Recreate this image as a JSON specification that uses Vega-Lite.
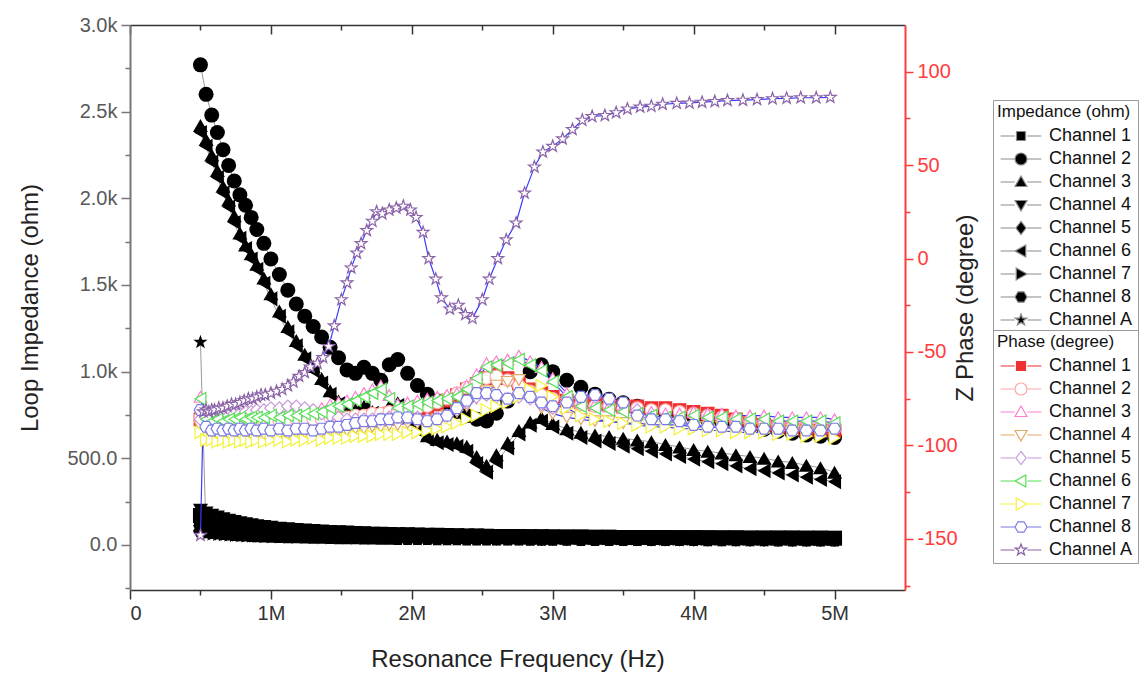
{
  "$schema": "https://vega.github.io/schema/vega-lite/v6.json",
  "width": 775,
  "height": 565,
  "autosize": "none",
  "padding": {"left": 130, "top": 25, "right": 240, "bottom": 87},
  "background": "white",
  "config": {
    "view": {"stroke": null},
    "font": "Liberation Sans",
    "axis": {"grid": false, "labelFont": "Liberation Sans", "titleFont": "Liberation Sans", "titleFontWeight": "normal"},
    "legend": {
      "titleFont": "Liberation Sans", "labelFont": "Liberation Sans",
      "titleFontSize": 17, "titleFontWeight": "normal", "titleColor": "#111",
      "labelFontSize": 18, "labelColor": "#111",
      "symbolSize": 144, "symbolStrokeWidth": 1.2, "rowPadding": 5, "padding": 4,
      "strokeColor": "#9a9a9a", "fillColor": "white", "titlePadding": 6,
      "symbolOffset": 15, "labelOffset": 19, "labelLimit": 200, "titleLimit": 300
    }
  },
  "datasets": {
    "imp": [
      {"f":0.5,"c1":170,"c2":2770,"c3":2420,"c4":200,"c5":110,"c6":2380,"c7":140,"c8":80,"cA":1170},
      {"f":0.54,"c1":158,"c2":2600,"c3":2340,"c4":185,"c5":104,"c6":2300,"c7":131,"c8":76,"cA":62},
      {"f":0.58,"c1":148,"c2":2480,"c3":2250,"c4":172,"c5":99,"c6":2210,"c7":123,"c8":72,"cA":59},
      {"f":0.62,"c1":139,"c2":2380,"c3":2160,"c4":161,"c5":94,"c6":2120,"c7":116,"c8":69,"cA":57},
      {"f":0.66,"c1":131,"c2":2280,"c3":2070,"c4":151,"c5":90,"c6":2030,"c7":110,"c8":66,"cA":55},
      {"f":0.7,"c1":124,"c2":2190,"c3":1990,"c4":142,"c5":86,"c6":1950,"c7":104,"c8":63,"cA":53},
      {"f":0.74,"c1":118,"c2":2100,"c3":1900,"c4":135,"c5":82,"c6":1860,"c7":99,"c8":61,"cA":51},
      {"f":0.78,"c1":112,"c2":2020,"c3":1800,"c4":128,"c5":79,"c6":1770,"c7":95,"c8":59,"cA":50},
      {"f":0.82,"c1":107,"c2":1960,"c3":1730,"c4":122,"c5":76,"c6":1710,"c7":91,"c8":57,"cA":48},
      {"f":0.86,"c1":102,"c2":1890,"c3":1680,"c4":116,"c5":73,"c6":1650,"c7":87,"c8":55,"cA":47},
      {"f":0.9,"c1":98,"c2":1820,"c3":1620,"c4":111,"c5":71,"c6":1590,"c7":84,"c8":53,"cA":46},
      {"f":0.95,"c1":94,"c2":1740,"c3":1540,"c4":106,"c5":68,"c6":1510,"c7":80,"c8":52,"cA":45},
      {"f":1.0,"c1":90,"c2":1650,"c3":1450,"c4":102,"c5":66,"c6":1420,"c7":77,"c8":50,"cA":44},
      {"f":1.06,"c1":86,"c2":1560,"c3":1350,"c4":97,"c5":64,"c6":1320,"c7":74,"c8":49,"cA":43},
      {"f":1.12,"c1":82,"c2":1470,"c3":1260,"c4":93,"c5":62,"c6":1230,"c7":71,"c8":48,"cA":42},
      {"f":1.18,"c1":79,"c2":1390,"c3":1180,"c4":89,"c5":60,"c6":1150,"c7":69,"c8":47,"cA":41},
      {"f":1.24,"c1":76,"c2":1320,"c3":1100,"c4":86,"c5":58,"c6":1075,"c7":67,"c8":46,"cA":40},
      {"f":1.3,"c1":73,"c2":1260,"c3":1030,"c4":83,"c5":57,"c6":1005,"c7":65,"c8":45,"cA":39},
      {"f":1.36,"c1":71,"c2":1200,"c3":960,"c4":80,"c5":55,"c6":935,"c7":63,"c8":44,"cA":38},
      {"f":1.42,"c1":69,"c2":1140,"c3":890,"c4":78,"c5":54,"c6":870,"c7":61,"c8":43,"cA":38},
      {"f":1.48,"c1":67,"c2":1080,"c3":830,"c4":76,"c5":53,"c6":815,"c7":60,"c8":42,"cA":37},
      {"f":1.54,"c1":65,"c2":1010,"c3":790,"c4":74,"c5":52,"c6":775,"c7":58,"c8":42,"cA":36},
      {"f":1.6,"c1":63,"c2":990,"c3":780,"c4":72,"c5":51,"c6":770,"c7":57,"c8":41,"cA":36},
      {"f":1.66,"c1":62,"c2":1025,"c3":800,"c4":70,"c5":50,"c6":790,"c7":56,"c8":40,"cA":35},
      {"f":1.72,"c1":60,"c2":990,"c3":770,"c4":68,"c5":49,"c6":760,"c7":55,"c8":40,"cA":35},
      {"f":1.78,"c1":59,"c2":950,"c3":740,"c4":67,"c5":48,"c6":730,"c7":54,"c8":39,"cA":34},
      {"f":1.84,"c1":58,"c2":1040,"c3":800,"c4":66,"c5":47,"c6":790,"c7":53,"c8":39,"cA":34},
      {"f":1.9,"c1":57,"c2":1070,"c3":820,"c4":65,"c5":46,"c6":805,"c7":52,"c8":38,"cA":33},
      {"f":1.97,"c1":56,"c2":990,"c3":740,"c4":64,"c5":45,"c6":720,"c7":51,"c8":38,"cA":33},
      {"f":2.04,"c1":55,"c2":920,"c3":680,"c4":63,"c5":44,"c6":660,"c7":50,"c8":37,"cA":32},
      {"f":2.11,"c1":54,"c2":870,"c3":630,"c4":62,"c5":44,"c6":610,"c7":49,"c8":37,"cA":32},
      {"f":2.18,"c1":53,"c2":830,"c3":610,"c4":61,"c5":43,"c6":590,"c7":48,"c8":36,"cA":31},
      {"f":2.25,"c1":52,"c2":800,"c3":600,"c4":60,"c5":42,"c6":580,"c7":48,"c8":36,"cA":31},
      {"f":2.32,"c1":51,"c2":770,"c3":590,"c4":59,"c5":42,"c6":570,"c7":47,"c8":36,"cA":31},
      {"f":2.39,"c1":50,"c2":745,"c3":570,"c4":58,"c5":41,"c6":540,"c7":46,"c8":35,"cA":30},
      {"f":2.46,"c1":50,"c2":725,"c3":510,"c4":57,"c5":40,"c6":470,"c7":46,"c8":35,"cA":30},
      {"f":2.53,"c1":49,"c2":715,"c3":460,"c4":56,"c5":40,"c6":420,"c7":45,"c8":35,"cA":30},
      {"f":2.6,"c1":48,"c2":760,"c3":520,"c4":55,"c5":39,"c6":480,"c7":45,"c8":34,"cA":29},
      {"f":2.68,"c1":48,"c2":830,"c3":590,"c4":55,"c5":39,"c6":560,"c7":44,"c8":34,"cA":29},
      {"f":2.76,"c1":47,"c2":920,"c3":660,"c4":54,"c5":38,"c6":640,"c7":44,"c8":34,"cA":29},
      {"f":2.84,"c1":47,"c2":1000,"c3":710,"c4":53,"c5":38,"c6":690,"c7":43,"c8":33,"cA":28},
      {"f":2.92,"c1":46,"c2":1040,"c3":735,"c4":53,"c5":37,"c6":715,"c7":43,"c8":33,"cA":28},
      {"f":3.0,"c1":46,"c2":1000,"c3":700,"c4":52,"c5":37,"c6":680,"c7":42,"c8":33,"cA":28},
      {"f":3.1,"c1":45,"c2":950,"c3":670,"c4":51,"c5":36,"c6":645,"c7":42,"c8":33,"cA":28},
      {"f":3.2,"c1":45,"c2":910,"c3":650,"c4":51,"c5":36,"c6":620,"c7":41,"c8":32,"cA":27},
      {"f":3.3,"c1":44,"c2":870,"c3":635,"c4":50,"c5":36,"c6":600,"c7":41,"c8":32,"cA":27},
      {"f":3.4,"c1":44,"c2":840,"c3":625,"c4":50,"c5":35,"c6":585,"c7":41,"c8":32,"cA":27},
      {"f":3.5,"c1":43,"c2":820,"c3":615,"c4":49,"c5":35,"c6":570,"c7":40,"c8":32,"cA":27},
      {"f":3.6,"c1":43,"c2":800,"c3":605,"c4":49,"c5":35,"c6":555,"c7":40,"c8":31,"cA":26},
      {"f":3.7,"c1":43,"c2":780,"c3":595,"c4":48,"c5":34,"c6":540,"c7":40,"c8":31,"cA":26},
      {"f":3.8,"c1":42,"c2":765,"c3":580,"c4":48,"c5":34,"c6":525,"c7":39,"c8":31,"cA":26},
      {"f":3.9,"c1":42,"c2":750,"c3":565,"c4":47,"c5":34,"c6":510,"c7":39,"c8":31,"cA":26},
      {"f":4.0,"c1":42,"c2":735,"c3":550,"c4":47,"c5":33,"c6":495,"c7":39,"c8":31,"cA":26},
      {"f":4.1,"c1":41,"c2":720,"c3":540,"c4":47,"c5":33,"c6":480,"c7":38,"c8":30,"cA":25},
      {"f":4.2,"c1":41,"c2":705,"c3":530,"c4":46,"c5":33,"c6":468,"c7":38,"c8":30,"cA":25},
      {"f":4.3,"c1":41,"c2":692,"c3":520,"c4":46,"c5":33,"c6":455,"c7":38,"c8":30,"cA":25},
      {"f":4.4,"c1":40,"c2":680,"c3":510,"c4":45,"c5":32,"c6":440,"c7":38,"c8":30,"cA":25},
      {"f":4.5,"c1":40,"c2":668,"c3":500,"c4":45,"c5":32,"c6":428,"c7":37,"c8":30,"cA":25},
      {"f":4.6,"c1":40,"c2":656,"c3":485,"c4":45,"c5":32,"c6":415,"c7":37,"c8":29,"cA":25},
      {"f":4.7,"c1":40,"c2":645,"c3":475,"c4":44,"c5":32,"c6":403,"c7":37,"c8":29,"cA":24},
      {"f":4.8,"c1":39,"c2":635,"c3":460,"c4":44,"c5":31,"c6":390,"c7":37,"c8":29,"cA":24},
      {"f":4.9,"c1":39,"c2":627,"c3":445,"c4":44,"c5":31,"c6":378,"c7":36,"c8":29,"cA":24},
      {"f":5.0,"c1":39,"c2":620,"c3":420,"c4":43,"c5":31,"c6":365,"c7":36,"c8":29,"cA":24}
    ],
    "ph": [
      {"f":0.5,"c1":-86,"c2":-85,"c3":-74,"c4":-90,"c5":-86,"c6":-75,"c7":-93,"c8":-81},
      {"f":0.54,"c1":-88,"c2":-87,"c3":-84,"c4":-94,"c5":-85,"c6":-86,"c7":-97,"c8":-90},
      {"f":0.58,"c1":-89,"c2":-88,"c3":-85,"c4":-95,"c5":-85,"c6":-87,"c7":-97,"c8":-92},
      {"f":0.62,"c1":-88,"c2":-87,"c3":-84,"c4":-94,"c5":-84,"c6":-86,"c7":-98,"c8":-91},
      {"f":0.66,"c1":-89,"c2":-88,"c3":-85,"c4":-95,"c5":-84,"c6":-87,"c7":-97,"c8":-92},
      {"f":0.7,"c1":-88,"c2":-87,"c3":-84,"c4":-94,"c5":-84,"c6":-86,"c7":-98,"c8":-91},
      {"f":0.74,"c1":-89,"c2":-88,"c3":-84,"c4":-95,"c5":-83,"c6":-86,"c7":-97,"c8":-92},
      {"f":0.78,"c1":-88,"c2":-87,"c3":-83,"c4":-94,"c5":-83,"c6":-85,"c7":-98,"c8":-91},
      {"f":0.82,"c1":-89,"c2":-88,"c3":-84,"c4":-95,"c5":-82,"c6":-86,"c7":-97,"c8":-92},
      {"f":0.86,"c1":-88,"c2":-87,"c3":-83,"c4":-94,"c5":-82,"c6":-85,"c7":-98,"c8":-91},
      {"f":0.9,"c1":-88,"c2":-87,"c3":-83,"c4":-94,"c5":-81,"c6":-85,"c7":-97,"c8":-92},
      {"f":0.95,"c1":-88,"c2":-87,"c3":-83,"c4":-94,"c5":-81,"c6":-85,"c7":-98,"c8":-91},
      {"f":1.0,"c1":-88,"c2":-87,"c3":-82,"c4":-94,"c5":-80,"c6":-84,"c7":-97,"c8":-92},
      {"f":1.06,"c1":-88,"c2":-87,"c3":-83,"c4":-94,"c5":-80,"c6":-85,"c7":-97,"c8":-91},
      {"f":1.12,"c1":-88,"c2":-87,"c3":-82,"c4":-94,"c5":-79,"c6":-84,"c7":-98,"c8":-92},
      {"f":1.18,"c1":-87,"c2":-86,"c3":-82,"c4":-93,"c5":-79,"c6":-84,"c7":-97,"c8":-91},
      {"f":1.24,"c1":-87,"c2":-86,"c3":-81,"c4":-93,"c5":-80,"c6":-83,"c7":-97,"c8":-91},
      {"f":1.3,"c1":-87,"c2":-86,"c3":-81,"c4":-93,"c5":-81,"c6":-83,"c7":-96,"c8":-92},
      {"f":1.36,"c1":-87,"c2":-86,"c3":-80,"c4":-93,"c5":-83,"c6":-82,"c7":-97,"c8":-91},
      {"f":1.42,"c1":-86,"c2":-85,"c3":-78,"c4":-92,"c5":-84,"c6":-80,"c7":-96,"c8":-90},
      {"f":1.48,"c1":-86,"c2":-85,"c3":-77,"c4":-92,"c5":-85,"c6":-79,"c7":-96,"c8":-90},
      {"f":1.54,"c1":-86,"c2":-85,"c3":-76,"c4":-92,"c5":-86,"c6":-78,"c7":-96,"c8":-89},
      {"f":1.6,"c1":-85,"c2":-84,"c3":-74,"c4":-91,"c5":-86,"c6":-76,"c7":-95,"c8":-88},
      {"f":1.66,"c1":-85,"c2":-84,"c3":-72,"c4":-91,"c5":-86,"c6":-74,"c7":-95,"c8":-87},
      {"f":1.72,"c1":-84,"c2":-83,"c3":-70,"c4":-90,"c5":-86,"c6":-72,"c7":-95,"c8":-87},
      {"f":1.78,"c1":-84,"c2":-83,"c3":-68,"c4":-90,"c5":-86,"c6":-70,"c7":-94,"c8":-86},
      {"f":1.84,"c1":-83,"c2":-82,"c3":-73,"c4":-89,"c5":-85,"c6":-75,"c7":-94,"c8":-86},
      {"f":1.9,"c1":-83,"c2":-82,"c3":-78,"c4":-89,"c5":-85,"c6":-80,"c7":-94,"c8":-85},
      {"f":1.97,"c1":-82,"c2":-81,"c3":-77,"c4":-88,"c5":-85,"c6":-79,"c7":-93,"c8":-85},
      {"f":2.04,"c1":-81,"c2":-80,"c3":-76,"c4":-88,"c5":-85,"c6":-78,"c7":-93,"c8":-86},
      {"f":2.11,"c1":-80,"c2":-79,"c3":-75,"c4":-87,"c5":-86,"c6":-77,"c7":-92,"c8":-87},
      {"f":2.18,"c1":-78,"c2":-77,"c3":-74,"c4":-86,"c5":-85,"c6":-76,"c7":-91,"c8":-86},
      {"f":2.25,"c1":-76,"c2":-75,"c3":-73,"c4":-84,"c5":-84,"c6":-75,"c7":-90,"c8":-84},
      {"f":2.32,"c1":-73,"c2":-72,"c3":-72,"c4":-82,"c5":-81,"c6":-74,"c7":-88,"c8":-80},
      {"f":2.39,"c1":-70,"c2":-69,"c3":-68,"c4":-79,"c5":-77,"c6":-70,"c7":-86,"c8":-76},
      {"f":2.46,"c1":-67,"c2":-66,"c3":-62,"c4":-75,"c5":-74,"c6":-64,"c7":-84,"c8":-72},
      {"f":2.53,"c1":-64,"c2":-64,"c3":-56,"c4":-71,"c5":-73,"c6":-58,"c7":-81,"c8":-72},
      {"f":2.6,"c1":-62,"c2":-63,"c3":-55,"c4":-68,"c5":-74,"c6":-57,"c7":-79,"c8":-73},
      {"f":2.68,"c1":-64,"c2":-65,"c3":-54,"c4":-66,"c5":-75,"c6":-56,"c7":-77,"c8":-75},
      {"f":2.76,"c1":-67,"c2":-68,"c3":-52,"c4":-65,"c5":-74,"c6":-54,"c7":-74,"c8":-72},
      {"f":2.84,"c1":-70,"c2":-71,"c3":-55,"c4":-72,"c5":-75,"c6":-57,"c7":-70,"c8":-74},
      {"f":2.92,"c1":-72,"c2":-73,"c3":-58,"c4":-80,"c5":-78,"c6":-60,"c7":-68,"c8":-77},
      {"f":3.0,"c1":-74,"c2":-75,"c3":-64,"c4":-83,"c5":-80,"c6":-66,"c7":-74,"c8":-79},
      {"f":3.1,"c1":-76,"c2":-77,"c3":-72,"c4":-85,"c5":-78,"c6":-74,"c7":-80,"c8":-77},
      {"f":3.2,"c1":-77,"c2":-78,"c3":-77,"c4":-86,"c5":-75,"c6":-79,"c7":-84,"c8":-74},
      {"f":3.3,"c1":-78,"c2":-79,"c3":-78,"c4":-87,"c5":-74,"c6":-80,"c7":-86,"c8":-73},
      {"f":3.4,"c1":-78,"c2":-79,"c3":-79,"c4":-87,"c5":-76,"c6":-81,"c7":-87,"c8":-75},
      {"f":3.5,"c1":-79,"c2":-80,"c3":-80,"c4":-88,"c5":-78,"c6":-82,"c7":-88,"c8":-77},
      {"f":3.6,"c1":-79,"c2":-80,"c3":-81,"c4":-88,"c5":-81,"c6":-83,"c7":-89,"c8":-84},
      {"f":3.7,"c1":-80,"c2":-81,"c3":-82,"c4":-89,"c5":-85,"c6":-84,"c7":-90,"c8":-86},
      {"f":3.8,"c1":-80,"c2":-81,"c3":-83,"c4":-89,"c5":-87,"c6":-85,"c7":-90,"c8":-86},
      {"f":3.9,"c1":-81,"c2":-82,"c3":-83,"c4":-89,"c5":-88,"c6":-85,"c7":-91,"c8":-87},
      {"f":4.0,"c1":-82,"c2":-83,"c3":-82,"c4":-90,"c5":-89,"c6":-84,"c7":-91,"c8":-89},
      {"f":4.1,"c1":-83,"c2":-84,"c3":-83,"c4":-90,"c5":-90,"c6":-85,"c7":-92,"c8":-90},
      {"f":4.2,"c1":-84,"c2":-85,"c3":-83,"c4":-90,"c5":-90,"c6":-85,"c7":-92,"c8":-90},
      {"f":4.3,"c1":-86,"c2":-86,"c3":-84,"c4":-91,"c5":-91,"c6":-86,"c7":-93,"c8":-90},
      {"f":4.4,"c1":-88,"c2":-87,"c3":-84,"c4":-91,"c5":-91,"c6":-86,"c7":-93,"c8":-91},
      {"f":4.5,"c1":-89,"c2":-88,"c3":-84,"c4":-91,"c5":-91,"c6":-86,"c7":-93,"c8":-91},
      {"f":4.6,"c1":-90,"c2":-89,"c3":-85,"c4":-92,"c5":-92,"c6":-87,"c7":-94,"c8":-91},
      {"f":4.7,"c1":-91,"c2":-90,"c3":-85,"c4":-92,"c5":-92,"c6":-87,"c7":-94,"c8":-92},
      {"f":4.8,"c1":-92,"c2":-91,"c3":-85,"c4":-92,"c5":-92,"c6":-87,"c7":-95,"c8":-92},
      {"f":4.9,"c1":-92,"c2":-91,"c3":-85,"c4":-93,"c5":-92,"c6":-87,"c7":-95,"c8":-92},
      {"f":5.0,"c1":-92,"c2":-91,"c3":-86,"c4":-93,"c5":-92,"c6":-88,"c7":-96,"c8":-91},
      {"f":0.5,"cA":-148},{"f":0.52,"cA":-82},{"f":0.54,"cA":-81},{"f":0.56,"cA":-82},{"f":0.58,"cA":-81},
      {"f":0.6,"cA":-81},{"f":0.63,"cA":-80},{"f":0.66,"cA":-80},{"f":0.69,"cA":-79},{"f":0.72,"cA":-78},
      {"f":0.75,"cA":-78},{"f":0.78,"cA":-77},{"f":0.81,"cA":-76},{"f":0.84,"cA":-75},{"f":0.87,"cA":-75},
      {"f":0.9,"cA":-74},{"f":0.93,"cA":-73},{"f":0.96,"cA":-73},{"f":1.0,"cA":-72},{"f":1.04,"cA":-71},
      {"f":1.08,"cA":-70},{"f":1.12,"cA":-68},{"f":1.16,"cA":-66},{"f":1.2,"cA":-63},{"f":1.24,"cA":-61},
      {"f":1.28,"cA":-58},{"f":1.33,"cA":-56},{"f":1.37,"cA":-53},{"f":1.41,"cA":-47},{"f":1.45,"cA":-36},
      {"f":1.5,"cA":-22},{"f":1.54,"cA":-13},{"f":1.57,"cA":-5},{"f":1.61,"cA":3},{"f":1.64,"cA":8},
      {"f":1.68,"cA":15},{"f":1.72,"cA":20},{"f":1.75,"cA":25},{"f":1.79,"cA":24},{"f":1.84,"cA":26},
      {"f":1.89,"cA":27},{"f":1.94,"cA":28},{"f":1.99,"cA":26},{"f":2.03,"cA":22},{"f":2.08,"cA":14},
      {"f":2.12,"cA":0},{"f":2.17,"cA":-11},{"f":2.21,"cA":-21},{"f":2.27,"cA":-27},{"f":2.33,"cA":-25},
      {"f":2.38,"cA":-30},{"f":2.43,"cA":-32},{"f":2.5,"cA":-22},{"f":2.55,"cA":-11},{"f":2.61,"cA":0},
      {"f":2.67,"cA":10},{"f":2.74,"cA":19},{"f":2.8,"cA":35},{"f":2.87,"cA":49},{"f":2.93,"cA":57},
      {"f":3.0,"cA":60},{"f":3.07,"cA":64},{"f":3.14,"cA":69},{"f":3.21,"cA":74},{"f":3.28,"cA":76},
      {"f":3.37,"cA":76.5},{"f":3.45,"cA":78},{"f":3.53,"cA":80},{"f":3.62,"cA":81},{"f":3.7,"cA":81.5},
      {"f":3.78,"cA":82.5},{"f":3.88,"cA":83},{"f":3.97,"cA":83.2},{"f":4.06,"cA":83.6},{"f":4.15,"cA":84},
      {"f":4.24,"cA":84.5},{"f":4.35,"cA":84.7},{"f":4.45,"cA":85},{"f":4.56,"cA":85.5},{"f":4.66,"cA":85.7},
      {"f":4.76,"cA":86},{"f":4.87,"cA":86},{"f":4.97,"cA":86.2}
    ],
    "keys": [
      {"key":"c1"},{"key":"c2"},{"key":"c3"},{"key":"c4"},{"key":"c5"},{"key":"c6"},{"key":"c7"},{"key":"c8"},{"key":"cA"}
    ]
  },
  "layer": [
    {
      "data": {"name": "imp"},
      "transform": [{"fold": ["c1","c2","c3","c4","c5","c6","c7","c8","cA"], "as": ["key","value"]}],
      "mark": {"type": "line", "color": "#9a9a9a", "strokeWidth": 1},
      "encoding": {
        "x": {"field": "f", "type": "quantitative", "scale": {"domain": [0, 5.5], "nice": false, "zero": false},
          "axis": {"orient": "bottom", "values": [0,0.5,1,1.5,2,2.5,3,3.5,4,4.5,5],
            "labelExpr": "datum.value % 1 !== 0 ? '' : (datum.value === 0 ? '0' : datum.value + 'M')",
            "tickSize": {"condition": {"test": "datum.value % 1 === 0", "value": 9}, "value": 5},
            "domainColor": "#333", "domainWidth": 1.5, "tickColor": "#333", "tickWidth": 1.5,
            "labelColor": "#333", "labelFontSize": 20, "labelPadding": 4,
            "title": "Resonance Frequency (Hz)", "titleFontSize": 24, "titleColor": "#222", "titlePadding": 24}},
        "y": {"field": "value", "type": "quantitative", "scale": {"domain": [-260, 3000], "nice": false, "zero": false},
          "axis": {"orient": "left", "values": [-250,0,250,500,750,1000,1250,1500,1750,2000,2250,2500,2750,3000],
            "labelExpr": "datum.value % 500 !== 0 ? '' : (datum.value >= 1000 ? format(datum.value / 1000, '.1f') + 'k' : format(datum.value, '.1f'))",
            "tickSize": {"condition": {"test": "datum.value % 500 === 0", "value": 9}, "value": 5},
            "domainColor": "#777", "domainWidth": 2, "tickColor": "#777", "tickWidth": 1.5,
            "labelColor": "#595959", "labelFontSize": 20, "labelPadding": 4,
            "title": "Loop Impedance (ohm)", "titleFontSize": 24, "titleColor": "#222", "titlePadding": 24}},
        "detail": {"field": "key"}
      }
    },
    {
      "data": {"name": "imp"},
      "transform": [{"fold": ["c1","c2","c3","c4","c5","c6","c7","c8","cA"], "as": ["key","value"]}],
      "mark": {"type": "point", "filled": true, "color": "black", "opacity": 1, "size": 225},
      "encoding": {
        "x": {"field": "f", "type": "quantitative", "scale": {"domain": [0, 5.5], "nice": false, "zero": false}, "axis": null},
        "y": {"field": "value", "type": "quantitative", "scale": {"domain": [-260, 3000], "nice": false, "zero": false}, "axis": null},
        "shape": {"field": "key", "type": "nominal",
          "scale": {"domain": ["c1","c2","c3","c4","c5","c6","c7","c8","cA"],
            "range": ["square","circle","triangle-up","triangle-down","diamond","triangle-left","triangle-right",
              "M-1,0L-0.5,-0.87L0.5,-0.87L1,0L0.5,0.87L-0.5,0.87Z",
              "M0,-1L0.235,-0.324L0.951,-0.309L0.38,0.124L0.588,0.809L0,0.4L-0.588,0.809L-0.38,0.124L-0.951,-0.309L-0.235,-0.324Z"]},
          "legend": null},
        "order": {"field": "key", "type": "ordinal"}
      }
    },
    {
      "data": {"name": "ph"},
      "transform": [{"fold": ["c1","c2","c3","c4","c5","c6","c7","c8","cA"], "as": ["key","value"]}, {"filter": "isValid(datum.value)"}],
      "mark": {"type": "line", "strokeWidth": 1.2},
      "encoding": {
        "x": {"field": "f", "type": "quantitative", "scale": {"domain": [0, 5.5], "nice": false, "zero": false},
          "axis": {"orient": "top", "values": [0,0.5,1,1.5,2,2.5,3,3.5,4,4.5,5], "labels": false, "title": null,
            "tickSize": {"condition": {"test": "datum.value % 1 === 0", "value": -9}, "value": -5},
            "domainColor": "#333", "domainWidth": 1.5, "tickColor": "#333", "tickWidth": 1.5}},
        "y": {"field": "value", "type": "quantitative", "scale": {"domain": [-177.3, 124.9], "nice": false, "zero": false},
          "axis": {"orient": "right", "values": [-175,-150,-125,-100,-75,-50,-25,0,25,50,75,100],
            "labelExpr": "datum.value % 50 !== 0 ? '' : '' + datum.value",
            "tickSize": {"condition": {"test": "datum.value % 50 === 0", "value": 8}, "value": 5},
            "domainColor": "#ff3c3c", "domainWidth": 2, "tickColor": "#ff3c3c", "tickWidth": 1.5,
            "labelColor": "#ff3c3c", "labelFontSize": 20, "labelPadding": 4,
            "title": "Z Phase (degree)", "titleFontSize": 24, "titleColor": "#222", "titleAngle": 270, "titlePadding": 20}},
        "detail": {"field": "key"},
        "stroke": {"condition": {"test": "datum.key === 'c1'", "value": "#ff9c9c"}, "value": "#3a3aff"}
      }
    },
    {
      "data": {"name": "ph"},
      "transform": [{"fold": ["c1","c2","c3","c4","c5","c6","c7","c8","cA"], "as": ["key","value"]}, {"filter": "isValid(datum.value)"}],
      "mark": {"type": "point", "filled": true, "opacity": 1, "size": 155, "strokeWidth": 1.2},
      "encoding": {
        "x": {"field": "f", "type": "quantitative", "scale": {"domain": [0, 5.5], "nice": false, "zero": false}, "axis": null},
        "y": {"field": "value", "type": "quantitative", "scale": {"domain": [-177.3, 124.9], "nice": false, "zero": false}, "axis": null},
        "shape": {"field": "key", "type": "nominal",
          "scale": {"domain": ["c1","c2","c3","c4","c5","c6","c7","c8","cA"],
            "range": ["square","circle","triangle-up","triangle-down","diamond","triangle-left","triangle-right",
              "M-1,0L-0.5,-0.87L0.5,-0.87L1,0L0.5,0.87L-0.5,0.87Z",
              "M0,-1L0.235,-0.324L0.951,-0.309L0.38,0.124L0.588,0.809L0,0.4L-0.588,0.809L-0.38,0.124L-0.951,-0.309L-0.235,-0.324Z"]},
          "legend": null},
        "fill": {"field": "key", "type": "nominal",
          "scale": {"domain": ["c1","c2","c3","c4","c5","c6","c7","c8","cA"],
            "range": ["#ee3030","white","white","white","white","white","white","white","white"]}, "legend": null},
        "stroke": {"field": "key", "type": "nominal",
          "scale": {"domain": ["c1","c2","c3","c4","c5","c6","c7","c8","cA"],
            "range": ["#ee3030","#ffa8a8","#ff7fcf","#e2a868","#c89ad8","#55e055","#f2f23a","#7b7be8","#8a62a8"]}, "legend": null},
        "order": {"field": "key", "type": "ordinal"}
      }
    },
    {
      "data": {"name": "keys"},
      "mark": {"type": "point", "filled": true, "fill": "black", "stroke": "#8a8a8a", "strokeWidth": 1.2, "opacity": 0, "size": 144},
      "encoding": {
        "shape": {"field": "key", "type": "nominal",
          "scale": {"domain": ["c1","c2","c3","c4","c5","c6","c7","c8","cA"],
            "range": [
              "M-3.4,0H-1.05M1.05,0H3.4M-0.75,-0.75H0.75V0.75H-0.75Z",
              "M-3.4,0H-1.05M1.05,0H3.4M-1,0A1,1,0,1,0,1,0A1,1,0,1,0,-1,0Z",
              "M-3.4,0H-1.05M1.05,0H3.4M0,-1L1,0.75H-1Z",
              "M-3.4,0H-1.05M1.05,0H3.4M0,1L1,-0.75H-1Z",
              "M-3.4,0H-1.05M1.05,0H3.4M0,-1.1L0.85,0L0,1.1L-0.85,0Z",
              "M-3.4,0H-1.05M1.05,0H3.4M-1,0L0.8,-1L0.8,1Z",
              "M-3.4,0H-1.05M1.05,0H3.4M1,0L-0.8,-1L-0.8,1Z",
              "M-3.4,0H-1.05M1.05,0H3.4M-1,0L-0.5,-0.87L0.5,-0.87L1,0L0.5,0.87L-0.5,0.87Z",
              "M-3.4,0H-1.05M1.05,0H3.4M0,-1L0.235,-0.324L0.951,-0.309L0.38,0.124L0.588,0.809L0,0.4L-0.588,0.809L-0.38,0.124L-0.951,-0.309L-0.235,-0.324Z"]},
          "legend": {"title": "Impedance (ohm)", "orient": "none", "legendX": 863, "legendY": 75, "symbolOpacity": 1,
            "labelExpr": "'Channel ' + substring(datum.label, 1)"}}
      }
    },
    {
      "data": {"name": "keys"},
      "mark": {"type": "point", "filled": true, "strokeWidth": 1.2, "opacity": 0, "size": 144},
      "encoding": {
        "shape": {"field": "key", "type": "nominal",
          "scale": {"domain": ["c1","c2","c3","c4","c5","c6","c7","c8","cA"],
            "range": [
              "M-3.4,0H-1.05M1.05,0H3.4M-0.75,-0.75H0.75V0.75H-0.75Z",
              "M-3.4,0H-1.05M1.05,0H3.4M-1,0A1,1,0,1,0,1,0A1,1,0,1,0,-1,0Z",
              "M-3.4,0H-1.05M1.05,0H3.4M0,-1L1,0.75H-1Z",
              "M-3.4,0H-1.05M1.05,0H3.4M0,1L1,-0.75H-1Z",
              "M-3.4,0H-1.05M1.05,0H3.4M0,-1.1L0.85,0L0,1.1L-0.85,0Z",
              "M-3.4,0H-1.05M1.05,0H3.4M-1,0L0.8,-1L0.8,1Z",
              "M-3.4,0H-1.05M1.05,0H3.4M1,0L-0.8,-1L-0.8,1Z",
              "M-3.4,0H-1.05M1.05,0H3.4M-1,0L-0.5,-0.87L0.5,-0.87L1,0L0.5,0.87L-0.5,0.87Z",
              "M-3.4,0H-1.05M1.05,0H3.4M0,-1L0.235,-0.324L0.951,-0.309L0.38,0.124L0.588,0.809L0,0.4L-0.588,0.809L-0.38,0.124L-0.951,-0.309L-0.235,-0.324Z"]},
          "legend": {"title": "Phase (degree)", "orient": "none", "legendX": 863, "legendY": 305, "symbolOpacity": 1,
            "labelExpr": "'Channel ' + substring(datum.label, 1)"}},
        "fill": {"field": "key", "type": "nominal",
          "scale": {"domain": ["c1","c2","c3","c4","c5","c6","c7","c8","cA"],
            "range": ["#ee3030","white","white","white","white","white","white","white","white"]},
          "legend": {"title": "Phase (degree)", "orient": "none", "legendX": 863, "legendY": 305, "symbolOpacity": 1,
            "labelExpr": "'Channel ' + substring(datum.label, 1)"}},
        "stroke": {"field": "key", "type": "nominal",
          "scale": {"domain": ["c1","c2","c3","c4","c5","c6","c7","c8","cA"],
            "range": ["#ee3030","#ffa8a8","#ff7fcf","#e2a868","#c89ad8","#55e055","#f2f23a","#7b7be8","#8a62a8"]},
          "legend": {"title": "Phase (degree)", "orient": "none", "legendX": 863, "legendY": 305, "symbolOpacity": 1,
            "labelExpr": "'Channel ' + substring(datum.label, 1)"}}
      }
    }
  ],
  "resolve": {
    "scale": {"x": "independent", "y": "independent", "shape": "independent", "fill": "independent", "stroke": "independent"},
    "axis": {"x": "independent", "y": "independent"},
    "legend": {"shape": "independent", "fill": "independent", "stroke": "independent"}
  }
}
